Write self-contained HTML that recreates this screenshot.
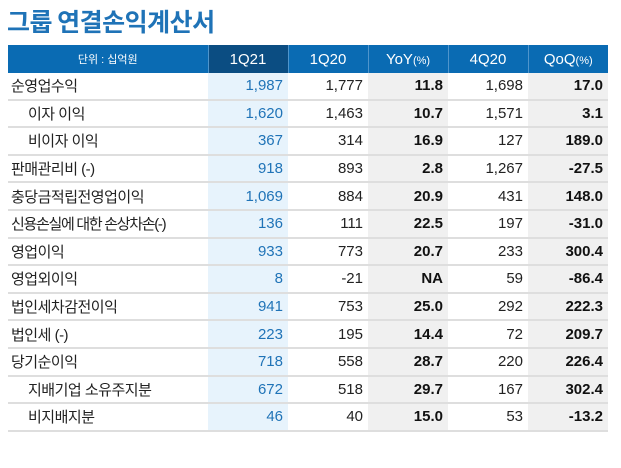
<!DOCTYPE html>
<html><head><meta charset="utf-8"><style>
body{margin:0;width:621px;height:468px;background:#fff;font-family:"Liberation Sans","Noto Sans CJK KR",sans-serif;position:relative;overflow:hidden}
h1{position:absolute;left:7px;top:3px;margin:0;font-size:25px;font-weight:bold;color:#1f73b7;letter-spacing:-0.5px;font-family:"Noto Sans CJK KR",sans-serif}
table{position:absolute;left:8px;top:45px;border-collapse:collapse;width:600px;table-layout:fixed}
th{background:#0a6bb3;color:#fff;font-weight:normal;height:28px;padding:0;font-size:15px;border-left:1px solid #4f95cc}
th:first-child{border-left:none;font-size:11px}
th.cur{background:#0b4d82}
th small{font-size:11px}
td{height:25.6px;padding:0 5px;font-size:15px;color:#222;text-align:right;border-bottom:2px solid #dedede;white-space:nowrap}
td.l{text-align:left;padding-left:3px;letter-spacing:-0.5px}
td.l.i{padding-left:20px}
td.c{background:#e7f3fc;color:#1f73b7}
td.g{background:#f0f0f0;font-weight:bold;color:#111}
</style></head><body>
<h1>그룹 연결손익계산서</h1>
<table>
<colgroup><col style="width:200px"><col style="width:80px"><col style="width:80px"><col style="width:80px"><col style="width:80px"><col style="width:80px"></colgroup>
<thead><tr>
<th>단위 : 십억원</th>
<th class="cur">1Q21</th>
<th>1Q20</th>
<th>YoY<small>(%)</small></th>
<th>4Q20</th>
<th>QoQ<small>(%)</small></th>
</tr></thead>
<tbody id="tb"></tbody>
</table>
<script>
const labels=["순영업수익","이자 이익","비이자 이익","판매관리비 (-)","충당금적립전영업이익","신용손실에 대한 손상차손(-)","영업이익","영업외이익","법인세차감전이익","법인세 (-)","당기순이익","지배기업 소유주지분","비지배지분"];
const indent=[0,1,1,0,0,0,0,0,0,0,0,1,1];
const q121=["1,987","1,620","367","918","1,069","136","933","8","941","223","718","672","46"];
const q120=["1,777","1,463","314","893","884","111","773","-21","753","195","558","518","40"];
const yoy=["11.8","10.7","16.9","2.8","20.9","22.5","20.7","NA","25.0","14.4","28.7","29.7","15.0"];
const q420=["1,698","1,571","127","1,267","431","197","233","59","292","72","220","167","53"];
const qoq=["17.0","3.1","189.0","-27.5","148.0","-31.0","300.4","-86.4","222.3","209.7","226.4","302.4","-13.2"];
const tb=document.getElementById('tb');
labels.forEach((lab,i)=>{
 const tr=document.createElement('tr');
 
 
 const cells=[[lab,'l'+(indent[i]?' i':'')],[q121[i],'c'],[q120[i],''],[yoy[i],'g'],[q420[i],''],[qoq[i],'g']];
 const names=['label','1q21','1q20','yoy','4q20','qoq'];
 cells.forEach((c,j)=>{
  const td=document.createElement('td');
  td.textContent=c[0];
  if(c[1])td.className=c[1];
  if(j==0&&i==5)td.style.letterSpacing='-1.3px';
  
  
  tr.appendChild(td);
 });
 tb.appendChild(tr);
});
</script>
</body></html>
